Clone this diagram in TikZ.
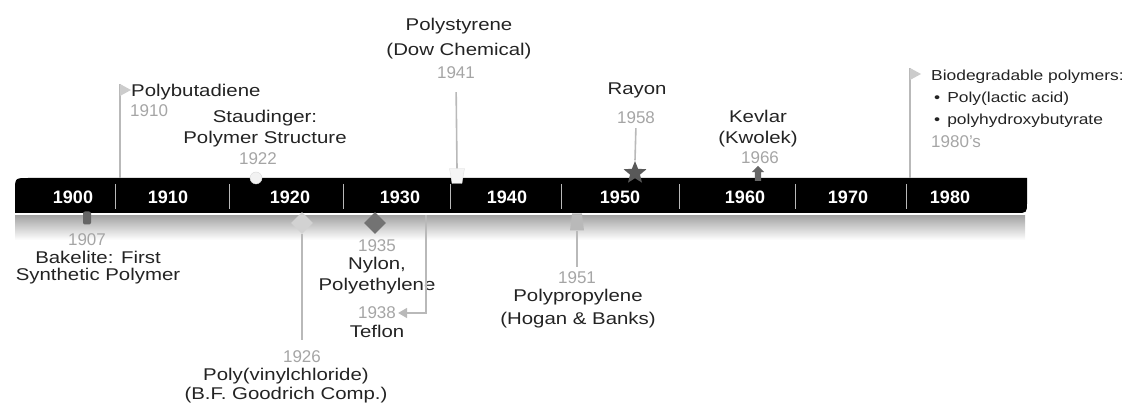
\documentclass[tikz,border=0pt]{standalone}
\usepackage{fontspec}
\setmainfont{Liberation Sans}
\newfontfamily\widefont{Liberation Sans}[FakeStretch=1.2]
\usetikzlibrary{shapes.geometric,shapes.arrows,arrows.meta}
\definecolor{yeargray}{RGB}{165,165,165}
\definecolor{inkgray}{RGB}{35,35,35}

\begin{document}
\begin{tikzpicture}[
    x=1pt, y=-1pt,
    evlabel/.style={font=\widefont\fontsize{17}{21}\selectfont, text=inkgray, align=center, inner sep=0pt},
    yrlabel/.style={font=\fontsize{17}{17}\selectfont, text=yeargray, inner sep=0pt},
    decadelabel/.style={font=\bfseries\fontsize{18}{18}\selectfont, text=white, inner sep=0pt},
    stemline/.style={draw=gray!55, line width=1.6pt},
    flagtip/.style={fill=gray!40},
    marker/.style={inner sep=1pt, draw=none}
  ]
  \useasboundingbox (0,0) rectangle (1133,414);

  % The time bar and its shadow.
  \shade[top color=black!35, bottom color=white] (15,216) rectangle (1025,240);
  \fill[black] (15,213) -- (15,191) .. controls (15,178) .. (28,178) -- (1027,178)
    -- (1027,202) .. controls (1027,213) .. (1016,213) -- cycle;
  \foreach \sx in {115,229,343,450,561,679,795,906}
    \draw[gray!55, line width=0.8pt] (\sx,184) -- (\sx,209);
  \foreach \px/\yr in {73/1900,168/1910,290/1920,400/1930,507/1940,620/1950,745/1960,848/1970,950/1980}
    \node[decadelabel] (d\yr) at (\px,197) {\yr};

  % Events below the bar.
  \node[marker, rectangle, rounded corners=2pt, fill=black!60, minimum width=8pt, minimum height=13pt] (m1907) at (87,218) {};
  \node[yrlabel] (y1907) at (87,240) {1907};
  \node[evlabel] (t1907) at (98,268) {Bakelite: First\\[-4pt]Synthetic Polymer};

  \node[marker, diamond, aspect=1, fill=gray!35, minimum size=22pt] (m1926) at (302,223) {};
  \node[yrlabel] (y1926) at (302,357) {1926};
  \node[evlabel] (t1926) at (286,386) {Poly(vinylchloride)\\[-2pt](B.F. Goodrich Comp.)};
  \draw[stemline, shorten >=11pt] (m1926.south) -- (y1926.north);

  \node[marker, diamond, aspect=1, fill=black!55, minimum size=22pt] (m1935) at (375,223) {};
  \node[yrlabel] (y1935) at (377,246) {1935};
  \node[evlabel] (t1935) at (377,276) {Nylon,\\Polyethylene};

  \coordinate (c1938) at (426,215);
  \node[yrlabel] (y1938) at (377,313) {1938};
  \node[evlabel] (t1938) at (377,331) {Teflon};
  \draw[stemline, -{Triangle[width=10pt,length=9pt]}] (c1938) |- ([xshift=2pt]y1938.east);

  \node[marker, trapezium, trapezium stretches=true, trapezium left angle=78, trapezium right angle=78, fill=gray!55, minimum width=14pt, minimum height=17pt] (m1951) at (577,222) {};
  \node[yrlabel] (y1951) at (577,278) {1951};
  \node[evlabel] (t1951) at (578,309) {Polypropylene\\[2pt](Hogan \& Banks)};
  \draw[stemline, shorten >=5pt] (m1951.south) -- (y1951.north);

  % Events above the bar.
  \coordinate (m1910) at (120,178);
  \coordinate (f1910) at (120,84);
  \draw[stemline] (m1910) -- (f1910);
  \fill[flagtip] (f1910) -- ++(11,6) -- ++(-11,6) -- cycle;
  \node[evlabel, anchor=west] (t1910) at (131,92) {Polybutadiene};
  \node[yrlabel, anchor=west] (y1910) at (130,111) {1910};

  \node[marker, circle, fill=gray!10, draw=gray!30, minimum size=12pt] (m1922) at (256,178) {};
  \node[yrlabel] (y1922) at (258,159) {1922};
  \node[evlabel] (t1922) at (265,129) {Staudinger:\\Polymer Structure};

  \node[marker, trapezium, trapezium stretches=true, shape border rotate=180, trapezium left angle=75, trapezium right angle=75, fill=gray!8, draw=gray!25, minimum width=15pt, minimum height=15pt] (m1941) at (457,176) {};
  \node[yrlabel] (y1941) at (456,73) {1941};
  \node[evlabel] (t1941) at (459,39) {Polystyrene\\[4pt](Dow Chemical)};
  \draw[stemline, shorten <=13pt] (y1941.south) -- (m1941.north);

  \node[marker, star, star points=5, star point ratio=2.3, fill=black!65, minimum size=24pt] (m1958) at (635,173) {};
  \node[yrlabel] (y1958) at (636,118) {1958};
  \node[evlabel] (t1958) at (637,90) {Rayon};
  \draw[stemline, shorten <=4pt] (y1958.south) -- (m1958.north);

  \node[marker, single arrow, shape border rotate=90, inner sep=3pt, single arrow head extend=3pt, fill=black!60, minimum height=15pt] (m1966) at (758,175) {};
  \node[yrlabel] (y1966) at (760,158) {1966};
  \node[evlabel] (t1966) at (758,129) {Kevlar\\(Kwolek)};

  \coordinate (m1980) at (910,178);
  \coordinate (f1980) at (910,68);
  \draw[stemline] (m1980) -- (f1980);
  \fill[flagtip] (f1980) -- ++(11,6) -- ++(-11,6) -- cycle;
  \node[evlabel, font=\widefont\fontsize{14.5}{22}\selectfont, align=left, anchor=west] (t1980) at (931,99)
    {Biodegradable polymers:\\\hspace{3pt}•\hspace{7pt}Poly(lactic acid)\\\hspace{3pt}•\hspace{7pt}polyhydroxybutyrate};
  \node[yrlabel, anchor=west] (y1980) at (931,142) {1980's};
\end{tikzpicture}
\end{document}
